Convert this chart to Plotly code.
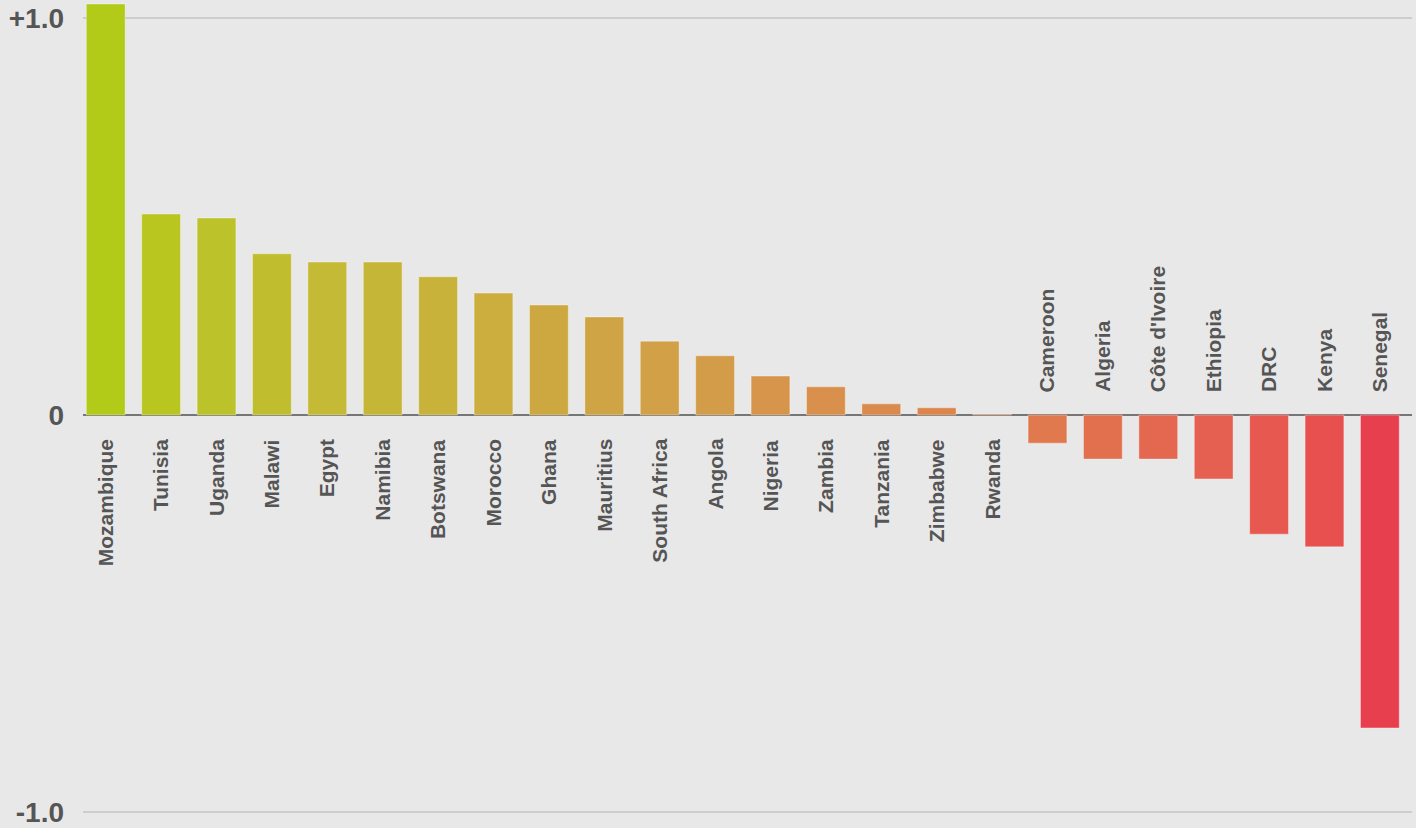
import plotly.graph_objects as go

countries = ["Mozambique", "Tunisia", "Uganda", "Malawi", "Egypt", "Namibia", "Botswana",
             "Morocco", "Ghana", "Mauritius", "South Africa", "Angola", "Nigeria", "Zambia",
             "Tanzania", "Zimbabwe", "Rwanda", "Cameroon", "Algeria", "Côte d'Ivoire",
             "Ethiopia", "DRC", "Kenya", "Senegal"]
values = [1.035, 0.506, 0.496, 0.406, 0.385, 0.385, 0.348, 0.307, 0.277, 0.247, 0.186,
          0.149, 0.098, 0.071, 0.028, 0.018, 0.002, -0.071, -0.111, -0.111, -0.161,
          -0.300, -0.332, -0.788]
colors = ["#b2ca18", "#b8c61f", "#bcc22a", "#c0be2f", "#c4ba35", "#c6b638", "#c8b23a",
          "#cbae3d", "#cda840", "#cfa444", "#d1a047", "#d39c48", "#d6954a", "#d8904c",
          "#da8a4c", "#dc864c", "#de824c", "#e07a4e", "#e2704e", "#e46850", "#e56050",
          "#e65850", "#e7504f", "#e83f4f"]
tick_vals = [1.0, 0.0, -1.0]
tick_text = ["+1.0", "0", "-1.0"]

x_idx = list(range(len(countries)))

fig = go.Figure()
fig.add_trace(go.Bar(
    x=x_idx, y=values,
    marker=dict(color=colors, line=dict(color="rgba(255,255,255,0.35)", width=1)),
    width=0.70,
    hoverinfo="skip",
))

font_family = "Liberation Sans, Arial, Helvetica, sans-serif"
for i, (c, v) in enumerate(zip(countries, values)):
    if v >= 0:
        fig.add_annotation(x=i, y=0, text="<b>%s</b>" % c, textangle=-90, showarrow=False,
                           xanchor="center", yanchor="top", yshift=-22,
                           font=dict(family=font_family, size=21, color="#555555"))
    else:
        fig.add_annotation(x=i, y=0, text="<b>%s</b>" % c, textangle=-90, showarrow=False,
                           xanchor="center", yanchor="bottom", yshift=21,
                           font=dict(family=font_family, size=21, color="#555555"))

fig.update_layout(
    width=1416, height=828,
    margin=dict(l=83, r=4, t=0, b=0),
    paper_bgcolor="#e8e8e8", plot_bgcolor="#e8e8e8",
    showlegend=False,
    xaxis=dict(range=[-0.41, 23.58], showgrid=False, zeroline=False, showticklabels=False,
               fixedrange=True),
    yaxis=dict(range=[-1.040, 1.045], tickvals=tick_vals,
               ticktext=["<b>%s</b>" % t for t in tick_text],
               showgrid=True, gridcolor="#cdcdcd", gridwidth=2,
               zeroline=True, zerolinecolor="#767676", zerolinewidth=2,
               tickfont=dict(family=font_family, size=28, color="#555555"),
               ticklabelstandoff=18, fixedrange=True),
)

fig.write_html("out.html")
